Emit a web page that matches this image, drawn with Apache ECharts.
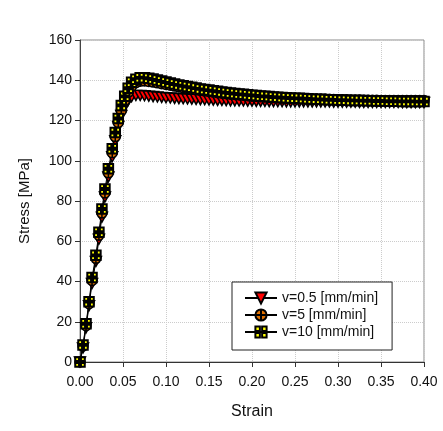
<!DOCTYPE html>
<html><head><meta charset="utf-8">
<script src="https://cdn.jsdelivr.net/npm/echarts@6/dist/echarts.min.js"></script>
<style>html,body{margin:0;padding:0;background:#fff}#c{width:443px;height:431px}</style>
</head><body><div id="c"></div>
<script>
var strain = [0,0.0035,0.007,0.0105,0.014,0.0185,0.022,0.0255,0.029,0.033,0.0375,0.041,0.0445,0.048,0.052,0.056,0.06,
0.065,0.07,0.075,0.08,0.085,0.09,0.095,0.1,0.105,0.11,0.115,0.12,0.125,0.13,0.135,0.14,0.145,0.15,0.155,0.16,0.165,0.17,0.175,0.18,0.185,0.19,0.195,0.2,0.205,0.21,0.215,0.22,0.225,0.23,0.235,0.24,0.245,0.25,0.255,0.26,0.265,0.27,0.275,0.28,0.285,0.29,0.295,0.3,0.305,0.31,0.315,0.32,0.325,0.33,0.335,0.34,0.345,0.35,0.355,0.36,0.365,0.37,0.375,0.38,0.385,0.39,0.395,0.4];

var stressV05 = [0,7,17,28,39,50,61,72,82,92,102,110,117,122.5,127,130,131.8,
132.5,132.5,132.3,132.1,131.9,131.7,131.5,131.3,131.2,131.0,130.9,130.8,130.7,130.6,130.5,130.4,130.3,130.2,130.1,130.0,130.0,129.9,129.8,129.8,129.7,129.7,129.6,129.6,129.5,129.5,129.5,129.4,129.4,129.4,129.4,129.3,129.3,129.3,129.3,129.3,129.2,129.2,129.2,129.2,129.2,129.2,129.1,129.1,
129.1,129.1,129.1,129.1,129.0,129.0,129.0,129.0,129.0,129.0,129.0,129.0,129.0,129.0,128.9,128.9,128.9,128.9,128.9,128.9];

var stressV5 = [0,8,18,29,40.5,51.5,63,74,84,94,104,112,119,125,130,134,137,
138.8,139.5,139.6,139.4,139.1,138.7,138.3,137.9,137.5,137.1,136.7,136.3,136.0,135.6,135.3,135.0,134.7,134.4,134.1,133.8,133.6,133.3,133.1,132.9,132.7,132.5,132.3,132.1,132.0,131.8,131.7,131.5,131.4,131.3,131.2,131.1,131.0,130.9,130.8,130.8,130.7,130.6,130.6,130.5,130.5,130.4,130.4,130.3,130.3,130.3,130.2,130.2,130.2,130.1,130.1,130.1,130.1,130.0,130.0,130.0,130.0,130.0,130.0,130.0,130.0,130.0,130.0,130.0];

var stressV10 = [0,8.5,19,30,42,53,64.5,76,86,96,106,114,121,127.5,132,136,139,
140.5,141.2,141.3,141,140.6,140.1,139.6,139.1,138.6,138.1,137.7,137.3,136.9,136.5,136.1,135.7,135.4,135.1,134.8,134.5,134.2,133.9,133.7,133.4,133.2,133.0,132.8,132.6,132.4,132.2,132.0,131.9,131.7,131.6,131.4,131.3,131.2,131.1,131.0,130.9,130.8,130.7,130.6,130.5,130.4,130.3,130.3,130.2,130.1,130.1,130.0,130.0,129.9,129.9,129.8,129.8,129.7,129.7,129.7,129.6,129.6,129.6,129.5,129.5,129.5,129.5,129.4,129.4];

var seriesNames = ['v=0.5 [mm/min]','v=5 [mm/min]','v=10 [mm/min]'];
var xTicks = {min:0, max:0.4, step:0.05};
var yTicks = {min:0, max:160, step:20};

function zip(ys){ var out=[]; for(var i=0;i<ys.length && i<strain.length;i++){ out.push([strain[i], ys[i]]); } return out; }

var FONT = '"Liberation Sans", Arial, sans-serif';
var chart = echarts.init(document.getElementById('c'), null, {renderer:'canvas'});
chart.setOption({
  animation:false,
  backgroundColor:'#fff',
  textStyle:{fontFamily:FONT},
  grid:{left:80, right:19, top:40, bottom:69, show:true, borderColor:'#8a8a8a', borderWidth:1, backgroundColor:'transparent'},
  legend:{
    left:232, top:282, orient:'vertical',
    data:seriesNames,
    backgroundColor:'#fff', borderColor:'#222', borderWidth:1,
    padding:[9,14,11,12], itemGap:3, itemWidth:32, itemHeight:14,
    textStyle:{fontFamily:FONT, fontSize:14, color:'#111'}
  },
  xAxis:{
    type:'value', min:xTicks.min, max:xTicks.max, interval:xTicks.step,
    name:'Strain', nameLocation:'middle', nameGap:42,
    nameTextStyle:{fontFamily:FONT, fontSize:16, color:'#111'},
    axisLine:{show:true, onZero:false, lineStyle:{color:'#333', width:1}},
    axisTick:{show:true, inside:false, length:5, lineStyle:{color:'#333'}},
    axisLabel:{fontFamily:FONT, fontSize:14, color:'#111', margin:13, formatter:function(v){return v.toFixed(2);}},
    splitLine:{show:true, lineStyle:{color:'#cccccc', type:'dotted', width:1}}
  },
  yAxis:{
    type:'value', min:yTicks.min, max:yTicks.max, interval:yTicks.step,
    name:'Stress [MPa]', nameLocation:'middle', nameGap:48, nameRotate:90,
    nameTextStyle:{fontFamily:FONT, fontSize:15, color:'#111'},
    axisLine:{show:true, onZero:false, lineStyle:{color:'#444', width:1}},
    axisTick:{show:true, inside:false, length:5, lineStyle:{color:'#333'}},
    axisLabel:{fontFamily:FONT, fontSize:14, color:'#111', margin:8},
    splitLine:{show:true, lineStyle:{color:'#cccccc', type:'dotted', width:1}}
  },
  series:[
    {name:seriesNames[0], type:'line', data:zip(stressV05),
     symbol:'path://M0,0L10,0L5,9Z', symbolSize:[11,10], showAllSymbol:true,
     lineStyle:{color:'#000', width:1},
     itemStyle:{color:'#ff0000', borderColor:'#000', borderWidth:1.5}},
    {name:seriesNames[1], type:'line', data:zip(stressV5),
     symbol:'path://M5,0A5,5,0,1,1,5,10A5,5,0,1,1,5,0Z M5,0L5,10 M0,5L10,5', symbolSize:10, showAllSymbol:true,
     lineStyle:{color:'#000', width:1},
     itemStyle:{color:'#e07000', borderColor:'#000', borderWidth:1.5}},
    {name:seriesNames[2], type:'line', data:zip(stressV10),
     symbol:'path://M0,0h4v4h-4z M6,0h4v4h-4z M0,6h4v4h-4z M6,6h4v4h-4z', symbolSize:9.5, showAllSymbol:true,
     lineStyle:{color:'#000', width:1},
     itemStyle:{color:'#ffff00', borderColor:'#000', borderWidth:2}}
  ]
});
</script></body></html>
